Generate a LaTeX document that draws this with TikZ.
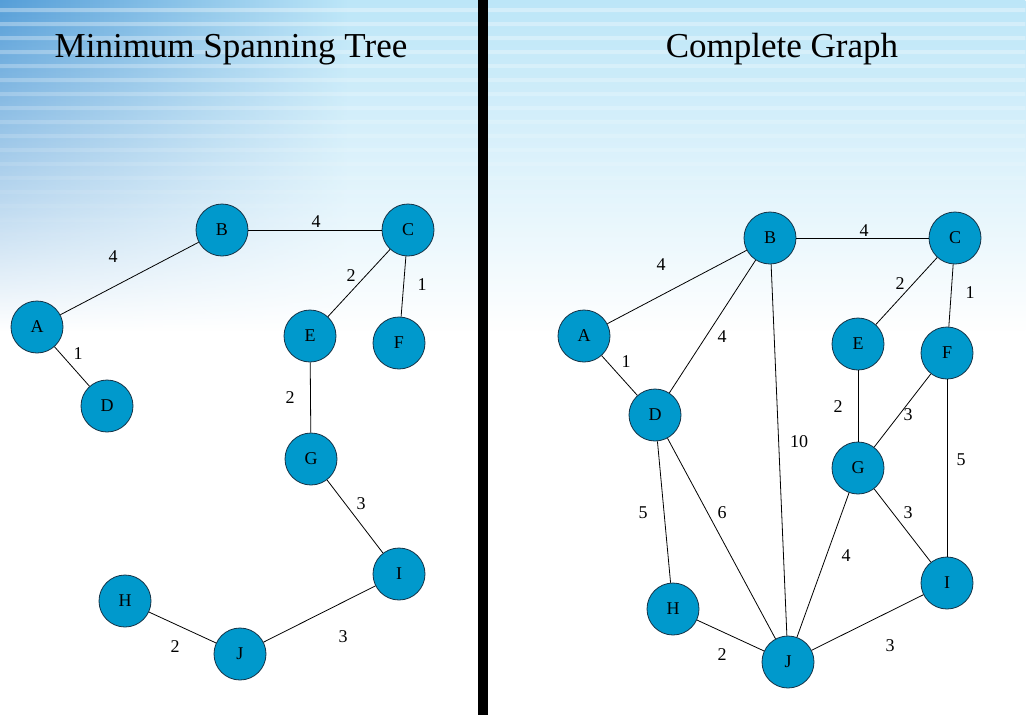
\documentclass[tikz,border=0pt]{standalone}
\usepackage{fontspec}
\setmainfont{Liberation Serif}
\usetikzlibrary{fadings}
\definecolor{nodeblue}{RGB}{0,153,204}
\definecolor{nodeedge}{RGB}{20,50,70}
\definecolor{skyA}{RGB}{188,230,248}
\definecolor{skyB}{RGB}{85,158,216}
\pgfdeclarehorizontalshading{skyshade}{100bp}{color(0bp)=(skyB); color(25bp)=(skyB); color(42bp)=(skyA); color(100bp)=(skyA)}
\tikzset{
  vert/.style={circle, minimum size=52pt, inner sep=0pt, fill=nodeblue, draw=nodeedge, line width=0.8pt, font=\fontsize{18}{20}\selectfont},
  wlabel/.style={inner sep=1pt, font=\fontsize{18}{20}\selectfont},
  edge/.style={draw=black, line width=0.8pt},
  ttl/.style={anchor=base, font=\fontsize{35}{40}\selectfont}
}
\begin{document}
\begin{tikzpicture}[x=1pt,y=-1pt]
\useasboundingbox (0,0) rectangle (1026,715);
% background
\fill[white] (0,0) rectangle (1026,715);
\shade[shading=skyshade, path fading=south] (0,0) rectangle (1026,330);
\fill[white, fill opacity=0.35, path fading=south]
  (0,8) rectangle (1026,12) (0,22) rectangle (1026,26) (0,36) rectangle (1026,40)
  (0,50) rectangle (1026,54) (0,64) rectangle (1026,68) (0,78) rectangle (1026,82)
  (0,92) rectangle (1026,96) (0,106) rectangle (1026,110) (0,120) rectangle (1026,124)
  (0,134) rectangle (1026,138) (0,148) rectangle (1026,152) (0,162) rectangle (1026,166)
  (0,176) rectangle (1026,180) (0,190) rectangle (1026,194) (0,204) rectangle (1026,208)
  (0,218) rectangle (1026,222) (0,232) rectangle (1026,236) (0,246) rectangle (1026,250);
% divider
\fill[black] (478,0) rectangle (488,715);
% titles
\node[ttl] (t1) at (231,57) {Minimum Spanning Tree};
\node[ttl] (t2) at (782,57) {Complete Graph};

% ---------- left: MST ----------
\node[vert] (lA) at (37,327) {A};
\node[vert] (lB) at (222,230) {B};
\node[vert] (lC) at (408,230) {C};
\node[vert] (lD) at (107,406) {D};
\node[vert] (lE) at (310,336) {E};
\node[vert] (lF) at (399,343) {F};
\node[vert] (lG) at (311,459) {G};
\node[vert] (lH) at (125,601) {H};
\node[vert] (lI) at (399,574) {I};
\node[vert] (lJ) at (240,654) {J};
\draw[edge] (lA) -- (lB);
\draw[edge] (lB) -- (lC);
\draw[edge] (lA) -- (lD);
\draw[edge] (lC) -- (lE);
\draw[edge] (lC) -- (lF);
\draw[edge] (lE) -- (lG);
\draw[edge] (lG) -- (lI);
\draw[edge] (lH) -- (lJ);
\draw[edge] (lJ) -- (lI);
\node[wlabel] (lwAB) at (113,257) {4};
\node[wlabel] (lwBC) at (316,222) {4};
\node[wlabel] (lwAD) at (78,354) {1};
\node[wlabel] (lwCE) at (351,276) {2};
\node[wlabel] (lwCF) at (422,285) {1};
\node[wlabel] (lwEG) at (290,398) {2};
\node[wlabel] (lwGI) at (361,504) {3};
\node[wlabel] (lwHJ) at (175,647) {2};
\node[wlabel] (lwJI) at (343,637) {3};

% ---------- right: complete graph ----------
\node[vert] (rA) at (584,336) {A};
\node[vert] (rB) at (770,238) {B};
\node[vert] (rC) at (955,238) {C};
\node[vert] (rD) at (655,415) {D};
\node[vert] (rE) at (858,344) {E};
\node[vert] (rF) at (947,353) {F};
\node[vert] (rG) at (858,468) {G};
\node[vert] (rH) at (673,609) {H};
\node[vert] (rI) at (947,583) {I};
\node[vert] (rJ) at (788,662) {J};
\draw[edge] (rA) -- (rB);
\draw[edge] (rB) -- (rC);
\draw[edge] (rA) -- (rD);
\draw[edge] (rB) -- (rD);
\draw[edge] (rB) -- (rJ);
\draw[edge] (rC) -- (rE);
\draw[edge] (rC) -- (rF);
\draw[edge] (rE) -- (rG);
\draw[edge] (rF) -- (rG);
\draw[edge] (rF) -- (rI);
\draw[edge] (rD) -- (rH);
\draw[edge] (rD) -- (rJ);
\draw[edge] (rG) -- (rJ);
\draw[edge] (rG) -- (rI);
\draw[edge] (rH) -- (rJ);
\draw[edge] (rJ) -- (rI);
\node[wlabel] (rwAB) at (661,265) {4};
\node[wlabel] (rwBC) at (864,231) {4};
\node[wlabel] (rwAD) at (626,362) {1};
\node[wlabel] (rwBD) at (722,337) {4};
\node[wlabel] (rwBJ) at (799,442) {10};
\node[wlabel] (rwCE) at (900,284) {2};
\node[wlabel] (rwCF) at (970,293) {1};
\node[wlabel] (rwEG) at (838,407) {2};
\node[wlabel] (rwFG) at (908,415) {3};
\node[wlabel] (rwFI) at (961,460) {5};
\node[wlabel] (rwDH) at (643,513) {5};
\node[wlabel] (rwDJ) at (722,513) {6};
\node[wlabel] (rwGJ) at (846,556) {4};
\node[wlabel] (rwGI) at (908,513) {3};
\node[wlabel] (rwHJ) at (722,655) {2};
\node[wlabel] (rwJI) at (890,646) {3};
\end{tikzpicture}
\end{document}
